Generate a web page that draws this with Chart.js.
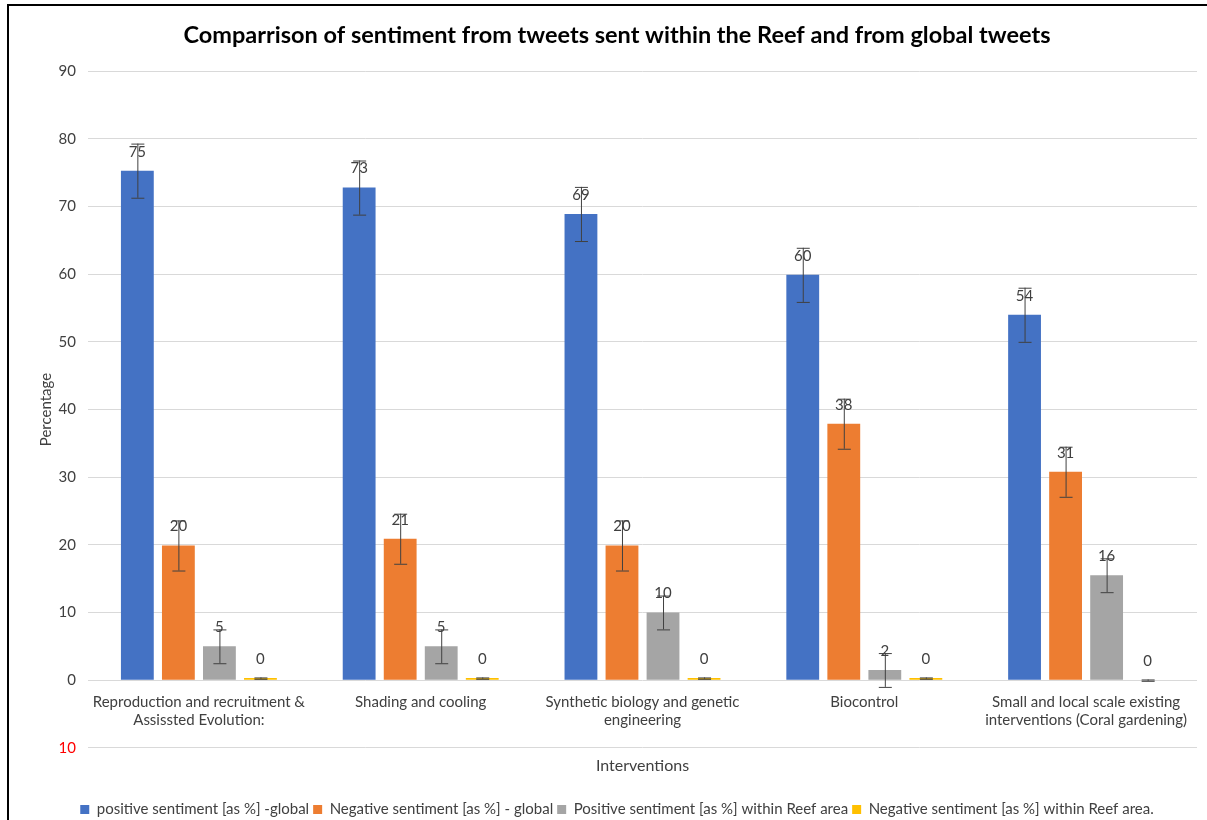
<!DOCTYPE html>
<html>
<head>
<meta charset="utf-8">
<script src="https://cdn.jsdelivr.net/npm/chart.js@4/dist/chart.umd.min.js"></script>
<style>
  html, body { margin: 0; padding: 0; background: #fff; overflow: hidden; }
  #wrap { position: relative; width: 1207px; height: 820px; }
  #frame { position: absolute; left: 7px; top: 4px; width: 1300px; height: 900px; border: 2px solid #000; pointer-events: none; }
  canvas { position: absolute; left: 0; top: 0; }
</style>
</head>
<body>
<div id="wrap">
  <canvas id="chart" width="1207" height="820"></canvas>
  <div id="frame"></div>
</div>
<script>
// interventions (x categories)
const categories = [
  ["Reproduction and recruitment &", "Assissted Evolution:"],
  "Shading and cooling",
  ["Synthetic biology and genetic", "engineering"],
  "Biocontrol",
  ["Small and local scale existing", "interventions (Coral gardening)"]
];

const posGlobal = [75.3, 72.8, 68.9, 59.9, 54.0];
const negGlobal = [19.9, 20.9, 19.9, 37.9, 30.8];
const posReef = [5.0, 5.0, 10.0, 1.5, 15.5];
const negReef = [0.3, 0.3, 0.3, 0.3, 0];

// error bar half-widths
const posGlobalErr = [4, 4, 4, 4, 4];
const negGlobalErr = [3.7, 3.7, 3.7, 3.7, 3.7];
const posReefErr = [2.5, 2.5, 2.5, 2.5, 2.5];
const negReefErr = [0.1, 0.1, 0.1, 0.1, 0.1];

const seriesNames = [
  "positive sentiment [as %] -global",
  "Negative sentiment [as %] - global",
  "Positive sentiment [as %] within Reef area",
  "Negative sentiment [as %] within Reef area."
];
const seriesColors = ["#4472C4", "#ED7D31", "#A5A5A5", "#FFC000"];

const FONT = "Lato, 'Open Sans', sans-serif";
const textColor = "#404040";

// draws error bars + value labels using the chart's own scales
const extras = {
  id: "extras",
  afterDatasetsDraw(chart) {
    const ctx = chart.ctx;
    const y = chart.scales.y;
    chart.data.datasets.forEach((ds, di) => {
      const meta = chart.getDatasetMeta(di);
      meta.data.forEach((bar, i) => {
        const v = ds.data[i];
        const e = ds.errors[i];
        ctx.save();
        // label
        ctx.font = "15px " + FONT;
        ctx.fillStyle = "#404040";
        ctx.textAlign = "center";
        ctx.textBaseline = "middle";
        ctx.fillText(String(Math.round(v)), bar.x, y.getPixelForValue(v) - 19);
        // error bar
        const top = y.getPixelForValue(v + e);
        const bot = y.getPixelForValue(v - e);
        ctx.strokeStyle = "#404040";
        ctx.lineWidth = 1;
        ctx.beginPath();
        ctx.moveTo(bar.x + 0.5, top);
        ctx.lineTo(bar.x + 0.5, bot);
        ctx.moveTo(bar.x - 6, top + 0.5);
        ctx.lineTo(bar.x + 7, top + 0.5);
        ctx.moveTo(bar.x - 6, bot + 0.5);
        ctx.lineTo(bar.x + 7, bot + 0.5);
        ctx.stroke();
        ctx.restore();
      });
    });
  }
};

const allValues = [posGlobal, negGlobal, posReef, negReef];
const allErrors = [posGlobalErr, negGlobalErr, posReefErr, negReefErr];

new Chart(document.getElementById("chart"), {
  type: "bar",
  data: {
    labels: categories,
    datasets: allValues.map((vals, k) => ({
      label: seriesNames[k],
      data: vals,
      errors: allErrors[k],
      backgroundColor: seriesColors[k],
      categoryPercentage: 0.74,
      barPercentage: 0.8
    }))
  },
  options: {
    responsive: false,
    animation: false,
    layout: { padding: { left: 37, right: 10, top: 0, bottom: -7 } },
    plugins: {
      title: {
        display: true,
        text: "Comparrison of sentiment from tweets sent within the Reef and from global tweets",
        color: "#000",
        font: { family: FONT, size: 23.5, weight: "bold" },
        padding: { top: 21, bottom: 22 }
      },
      legend: {
        position: "bottom",
        labels: {
          boxWidth: 9,
          boxHeight: 9,
          color: textColor,
          font: { family: FONT, size: 15 },
          padding: 4
        }
      },
      tooltip: { enabled: false }
    },
    scales: {
      x: {
        position: { y: 0 },
        grid: { display: false },
        border: { display: false },
        ticks: {
          color: textColor,
          font: { family: FONT, size: 15 },
          padding: 5,
          maxRotation: 0,
          autoSkip: false
        }
      },
      x2: {
        position: "bottom",
        grid: { display: false },
        border: { display: false },
        ticks: { display: false },
        title: {
          display: true,
          text: "Interventions",
          color: textColor,
          font: { family: FONT, size: 16 },
          padding: { top: 0, bottom: 23 }
        }
      },
      y: {
        min: -10,
        max: 90,
        border: { display: false },
        grid: { color: "#D9D9D9", drawTicks: false },
        afterFit(s) { s.width = 51; },
        ticks: {
          stepSize: 10,
          padding: 12,
          font: { family: FONT, size: 15 },
          color: (c) => (c.tick.value < 0 ? "#FF0000" : textColor),
          callback: (v) => Math.abs(v)
        },
        title: {
          display: true,
          text: "Percentage",
          color: textColor,
          font: { family: FONT, size: 15 },
          padding: 0
        }
      }
    }
  },
  plugins: [extras]
});
</script>
</body>
</html>
